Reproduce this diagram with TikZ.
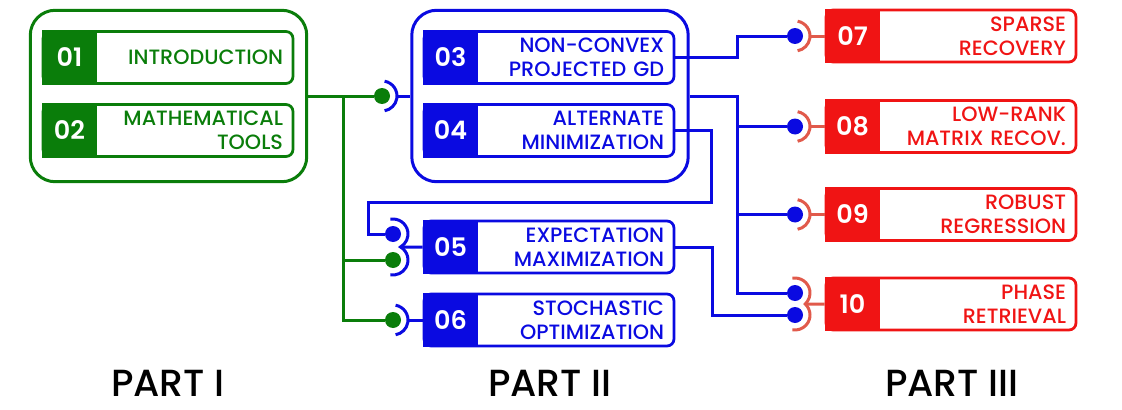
\documentclass[tikz,border=0pt]{standalone}
\usepackage{fontspec}
\setmainfont{Poppins}[UprightFont=* Medium, BoldFont=* SemiBold]
\usepackage{tikz}
\usetikzlibrary{positioning,calc}

\definecolor{grn}{RGB}{10,125,10}
\definecolor{blu}{RGB}{10,10,225}
\definecolor{rd}{RGB}{240,20,20}
\definecolor{sal}{RGB}{225,90,75}

\tikzset{
  box/.style={draw=#1, text=#1, line width=0.055cm, rounded corners=0.14cm,
    minimum width=5cm, minimum height=1.04cm, text width=4.6cm,
    inner xsep=0.2cm, inner ysep=0pt, align=right,
    font=\fontsize{11.8}{13.6}\selectfont},
  num/.style={draw=#1, fill=#1, text=white, line width=0.055cm,
    minimum width=1.06cm, minimum height=1.04cm, inner sep=0pt, anchor=west,
    font=\fontsize{14.5}{16}\selectfont\bfseries},
  grp/.style={draw=#1, line width=0.06cm, rounded corners=0.5cm,
    minimum width=5.53cm, minimum height=3.43cm},
  wire/.style={draw=#1, line width=0.06cm},
  dot/.style={circle, fill=#1, minimum size=0.32cm, inner sep=0pt},
  sock/.style={draw=#1, line width=0.06cm},
  part/.style={anchor=base, inner sep=0pt, font=\fontsize{21.5}{24}\selectfont}
}

\begin{document}
\begin{tikzpicture}[x=0.02cm, y=-0.02cm]
  \useasboundingbox (0,0) rectangle (1122,409);

  % part I
  \node[grp=grn] (p1) at (168.5,96) {};
  \node[box=grn] (l01) at (168,57.5) {INTRODUCTION};
  \node[num=grn] (n01) at (l01.west) {01};
  \node[box=grn] (l02) at (168,130.5) {MATHEMATICAL\\TOOLS};
  \node[num=grn] (n02) at (l02.west) {02};

  % part II
  \node[grp=blu] (p2) at (550,96) {};
  \node[box=blu] (l03) at (549,57.5) {NON-CONVEX\\PROJECTED GD};
  \node[num=blu] (n03) at (l03.west) {03};
  \node[box=blu] (l04) at (549,130.5) {ALTERNATE\\MINIMIZATION};
  \node[num=blu] (n04) at (l04.west) {04};
  \node[box=blu] (l05) at (549,247) {EXPECTATION\\MAXIMIZATION};
  \node[num=blu] (n05) at (l05.west) {05};
  \node[box=blu] (l06) at (549,320) {STOCHASTIC\\OPTIMIZATION};
  \node[num=blu] (n06) at (l06.west) {06};

  % part III
  \node[box=rd] (l07) at (951,36) {SPARSE\\RECOVERY};
  \node[num=rd] (n07) at (l07.west) {07};
  \node[box=rd] (l08) at (951,126.5) {LOW-RANK\\MATRIX RECOV.};
  \node[num=rd] (n08) at (l08.west) {08};
  \node[box=rd] (l09) at (951,214.5) {ROBUST\\REGRESSION};
  \node[num=rd] (n09) at (l09.west) {09};
  \node[box=rd] (l10) at (951,304) {PHASE\\RETRIEVAL};
  \node[num=rd] (n10) at (l10.west) {10};

  % plugs
  \node[dot=grn] (g3) at (382,96) {};
  \node[dot=blu] (b5) at (393,234) {};
  \node[dot=grn] (g5) at (393,260) {};
  \node[dot=grn] (g6) at (393,320) {};
  \node[dot=blu] (b7) at (795,36) {};
  \node[dot=blu] (b8) at (795,126.5) {};
  \node[dot=blu] (b9) at (795,214.5) {};
  \node[dot=blu] (b10a) at (795,293) {};
  \node[dot=blu] (b10b) at (795,315) {};

  % green wires
  \coordinate (gbus) at (343,96);
  \draw[wire=grn] (p1.east) -- (g3);
  \draw[wire=grn] (gbus) |- (g6);
  \draw[wire=grn] (gbus |- g5) -- (g5);

  % blue wires
  \coordinate (bbus) at (737,96);
  \draw[wire=blu] (p2.east) -- (bbus) |- (b10a);
  \draw[wire=blu] (bbus |- b8) -- (b8);
  \draw[wire=blu] (bbus |- b9) -- (b9);
  \draw[wire=blu] (l03.east) -- (bbus |- l03.east) |- (b7);
  \draw[wire=blu] (l04.east) -- ++(36,0) |- (368,202) |- (b5);
  \draw[wire=blu] (l05.east) -- ++(37,0) |- (b10b);

  % sockets
  \draw[sock=blu] (g3.center) ++(80:0.3cm) arc[start angle=80, end angle=-80, radius=0.3cm];
  \draw[sock=blu] ([xshift=0.3cm]g3.center) -- (p2.west);
  \draw[sock=blu] (b5.center) ++(100:0.3cm) arc[start angle=100, end angle=-60, radius=0.3cm]
    arc[start angle=60, end angle=-100, radius=0.3cm];
  \draw[sock=blu] ([shift={(0.15cm,-0.26cm)}]b5.center) -- (l05.west);
  \draw[sock=blu] (g6.center) ++(80:0.3cm) arc[start angle=80, end angle=-80, radius=0.3cm];
  \draw[sock=blu] ([xshift=0.3cm]g6.center) -- (l06.west);
  \foreach \d/\b in {b7/l07, b8/l08, b9/l09} {
    \draw[sock=sal] (\d.center) ++(80:0.3cm) arc[start angle=80, end angle=-80, radius=0.3cm];
    \draw[sock=sal] ([xshift=0.3cm]\d.center) -- (\b.west);
  }
  \draw[sock=sal] (b10a.center) ++(100:0.3cm) arc[start angle=100, end angle=-47.17, radius=0.3cm]
    arc[start angle=47.17, end angle=-100, radius=0.3cm];
  \draw[sock=sal] ([shift={(0.204cm,-0.22cm)}]b10a.center) -- (l10.west);

  % titles
  \node[part] (t1) at (168,396) {PART I};
  \node[part] (t2) at (550,396) {PART II};
  \node[part] (t3) at (952,396) {PART III};
\end{tikzpicture}
\end{document}
